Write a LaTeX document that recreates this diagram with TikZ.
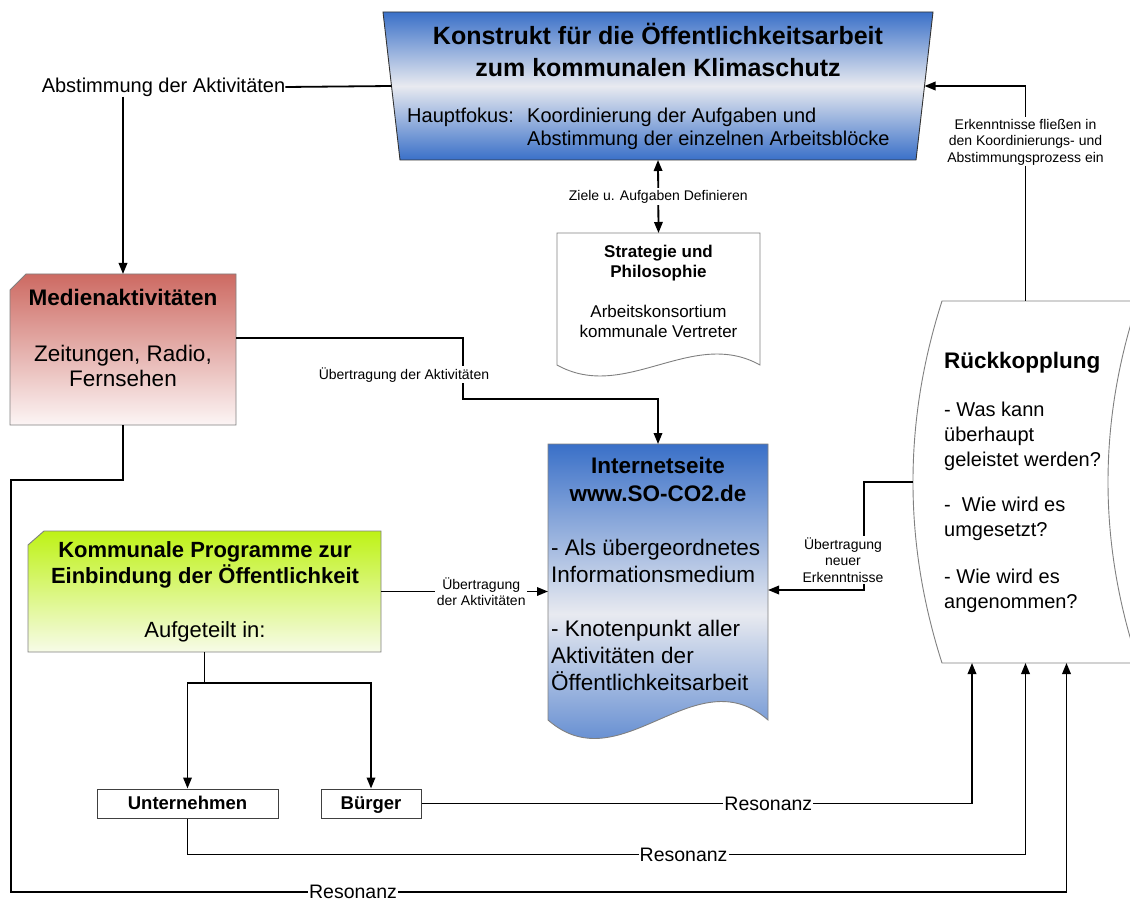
\documentclass[tikz,border=0pt]{standalone}
\usepackage{fontspec}
\setmainfont{Liberation Sans}
\usepackage{xcolor}
\usepackage{tikz}
\usetikzlibrary{arrows.meta, positioning}

\definecolor{konBlau}{RGB}{58,112,200}
\definecolor{konHell}{RGB}{232,234,240}
\definecolor{medRot}{RGB}{205,106,98}
\definecolor{medHell}{RGB}{252,245,245}
\definecolor{komGruen}{RGB}{190,242,22}
\definecolor{komHell}{RGB}{247,251,232}
\definecolor{rahmen}{RGB}{128,128,128}

\begin{document}
\begin{tikzpicture}[
    x=1pt, y=-1pt,
    rahmenbox/.style={rectangle, inner sep=0pt, outer sep=0pt},
    kante/.style={draw=rahmen, line width=0.9pt},
    zielbox/.style={rectangle, draw=black!75, line width=1pt, minimum height=29pt, inner sep=0pt, text height=13.5pt, text depth=1pt, font=\bfseries\fontsize{18.5}{20}\selectfont},
    txt/.style={align=center, inner sep=0pt},
    lbl/.style={fill=white, inner sep=1.5pt, align=center, font=\fontsize{14}{16.5}\selectfont},
    reso/.style={fill=white, inner sep=1pt, font=\fontsize{19.5}{22}\selectfont},
    link/.style={line width=1.8pt},
    arrow/.style={link, -{Triangle[length=11pt, width=8.5pt]}},
    both/.style={link, {Triangle[length=11pt, width=8.5pt]}-{Triangle[length=11pt, width=8.5pt]}}
]
\useasboundingbox (0,0) rectangle (1130,901);

% boxes
\node[rahmenbox, minimum width=533pt, minimum height=148pt] (konstrukt) at (658,86) {};
\node[rahmenbox, minimum width=226pt, minimum height=151pt] (medien) at (123,349.5) {};
\node[rahmenbox, minimum width=353pt, minimum height=121pt] (kommunal) at (204.5,591.5) {};
\node[rahmenbox, minimum width=203pt, minimum height=132pt] (strategie) at (658.5,299) {};
\node[rahmenbox, minimum width=220pt, minimum height=276pt] (internet) at (658,582) {};
\node[rahmenbox, minimum width=225pt, minimum height=362pt] (rueck) at (1025.5,482) {};
\node[zielbox, minimum width=181pt] (untern) at (187.5,803.5) {Unternehmen};
\node[zielbox, minimum width=100pt] (buerger) at (371,803.5) {Bürger};

\path[draw=black!80, line width=0.9pt, top color=konBlau, bottom color=konBlau, middle color=konHell]
    ([xshift=-8.5pt]konstrukt.north west) -- ([xshift=8.5pt]konstrukt.north east)
    -- ([xshift=-8.5pt]konstrukt.south east) -- ([xshift=8.5pt]konstrukt.south west) -- cycle;
\path[kante, top color=medRot, bottom color=medHell]
    ([xshift=16pt]medien.north west) -- (medien.north east) -- (medien.south east)
    -- (medien.south west) -- ([yshift=-16pt]medien.north west) -- cycle;
\path[kante, top color=komGruen, bottom color=komHell]
    ([xshift=16pt]kommunal.north west) -- (kommunal.north east) -- (kommunal.south east)
    -- (kommunal.south west) -- ([yshift=-14pt]kommunal.north west) -- cycle;
\path[kante, fill=white] (strategie.north west) -- (strategie.north east) -- (strategie.south east)
    .. controls +(-68,-38) and +(68,38) .. (strategie.south west) -- cycle;
\path[kante, top color=konBlau, bottom color=konBlau, middle color=konHell] (internet.north west) -- (internet.north east) -- (internet.south east)
    .. controls +(-73,-64) and +(73,64) .. (internet.south west) -- cycle;
\path[kante, fill=white] ([xshift=29pt]rueck.north west) -- (rueck.north east)
    .. controls +(-40,120.7) and +(-40,-120.7) .. (rueck.south east) -- ([xshift=29pt]rueck.south west)
    .. controls +(-38.7,-120.7) and +(-38.7,120.7) .. ([xshift=29pt]rueck.north west) -- cycle;

% texts
\node[txt, font=\bfseries\fontsize{25}{32}\selectfont] (konstruktT) at (658,50) {Konstrukt für die Öffentlichkeitsarbeit\\zum kommunalen Klimaschutz};
\node[txt, anchor=west, font=\fontsize{20}{24}\selectfont] (fokus) at (407,117) {Hauptfokus:};
\node[txt, anchor=west, align=left, font=\fontsize{20}{23}\selectfont] (fokusT) at (527,128.5) {Koordinierung der Aufgaben und\\Abstimmung der einzelnen Arbeitsblöcke};
\node[txt, font=\fontsize{22.5}{25}\selectfont] (medienT) at (123,337.5) {\textbf{Medienaktivitäten}\\[31pt]Zeitungen, Radio,\\Fernsehen};
\node[txt, font=\fontsize{17}{20}\selectfont] (strategieT) at (658.5,291.5) {\textbf{Strategie und}\\\textbf{Philosophie}\\[20pt]Arbeitskonsortium\\kommunale Vertreter};
\node[txt, font=\bfseries\fontsize{22.5}{28}\selectfont] (internetT) at (658,479) {Internetseite\\www.SO-CO2.de};
\node[txt, anchor=west, align=left, font=\fontsize{22.5}{27}\selectfont] (internetL) at (551,615) {- Als übergeordnetes\\Informationsmedium\\[27pt]- Knotenpunkt aller\\Aktivitäten der\\Öffentlichkeitsarbeit};
\node[txt, font=\fontsize{22}{26}\selectfont] (kommunalT) at (205,592) {\textbf{Kommunale Programme zur}\\\textbf{Einbindung der Öffentlichkeit}\\[28pt]Aufgeteilt in:};
\node[txt, anchor=west, align=left, font=\fontsize{20}{25}\selectfont] (rueckT) at (944,482.5) {\textbf{\fontsize{22.5}{25}\selectfont Rückkopplung}\\[23pt]- Was kann\\überhaupt\\geleistet werden?\\[20pt]-\ \ Wie wird es\\umgesetzt?\\[22pt]- Wie wird es\\angenommen?};
\node[txt, font=\fontsize{20}{24}\selectfont] (abst) at (163.5,87) {Abstimmung der Aktivitäten};

% connectors
\draw[link] (konstrukt.west) -- (abst.east);
\draw[arrow] (abst.south -| medien.north) -- (medien.north);
\draw[both] (konstrukt.south) -- node[lbl] (ziele) {Ziele u. Aufgaben Definieren} (strategie.north);
\draw[arrow] (rueck.north) |- node[lbl, pos=0.37] (erkenntnis) {Erkenntnisse fließen in\\den Koordinierungs- und\\Abstimmungsprozess ein} (konstrukt.east);
\draw[arrow] ([yshift=11.5pt]medien.east) -- ++(227,0) -- node[lbl, pos=0.6, xshift=-59pt] (uebertragung) {Übertragung der Aktivitäten} ++(0,61) -| (internet.north);
\draw[arrow] (kommunal.east) -- node[lbl, pos=0.6] (uebertragung2) {Übertragung\\der Aktivitäten} (kommunal.east -| internet.west);
\draw[arrow] (rueck.west) -- ++(-49,0) |- node[lbl, pos=0.36, xshift=-21pt] (uebertragung3) {Übertragung\\neuer\\Erkenntnisse} ([yshift=-8pt]internet.east);
\draw[arrow] (kommunal.south) -- ++(0,31) -| (untern.north);
\draw[arrow] (kommunal.south) -- ++(0,31) -| (buerger.north);
\draw[arrow] (buerger.east) -| node[reso, pos=0.315] (resonanz1) {Resonanz} ([xshift=-53.5pt]rueck.south);
\draw[arrow] (untern.south) -- ++(0,36) -| node[reso, pos=0.296] (resonanz2) {Resonanz} (rueck.south);
\draw[arrow] (medien.south) -- ++(0,55) -| ++(-112,412) -| node[reso, pos=0.162] (resonanz3) {Resonanz} ([xshift=41pt]rueck.south);

\end{tikzpicture}
\end{document}
